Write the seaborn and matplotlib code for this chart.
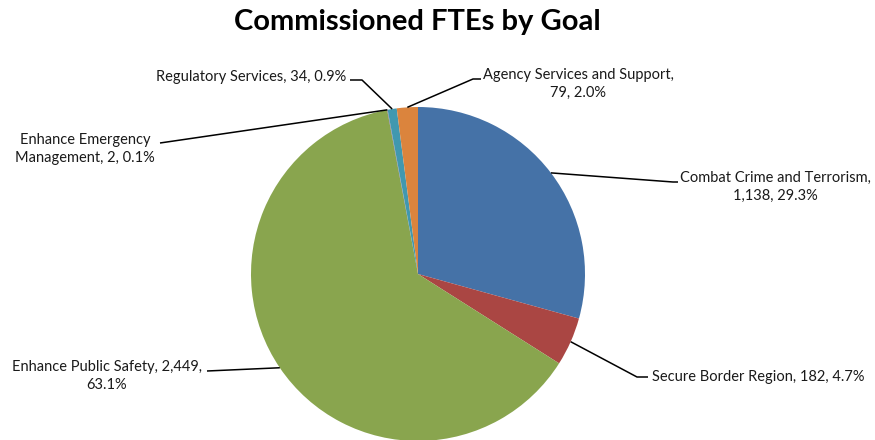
import matplotlib
matplotlib.use("Agg")
import matplotlib.pyplot as plt
import numpy as np
import seaborn as sns

# Commissioned FTEs by goal, clockwise from 12 o'clock
goals = [
    "Combat Crime and Terrorism",
    "Secure Border Region",
    "Enhance Public Safety",
    "Enhance Emergency Management",
    "Regulatory Services",
    "Agency Services and Support",
]
ftes = [1138, 182, 2449, 2, 34, 79]
colors = ["#4572A7", "#AA4643", "#89A54E", "#80699B", "#4198AF", "#DB843D"]

# label text as drawn (line breaks included)
label_texts = [
    "Combat Crime and Terrorism,\n{v}, {p}",
    "Secure Border Region, {v}, {p}",
    "Enhance Public Safety, {v},\n{p}",
    "Enhance Emergency\nManagement, {v}, {p}",
    "Regulatory Services, {v}, {p}",
    "Agency Services and Support,\n{v}, {p}",
]

W, H = 875, 440
CX, CY, R = 418, 274, 167   # pie centre / radius in pixels

# leader-line elbow, leader end, text anchor (pixels, top-left origin), alignment
layout = [
    ((673, 182), (678, 182), (680, 187), "left"),
    ((637, 377), (648, 377), (652, 377), "left"),
    ((207, 371), (207, 371), (202, 376), "right"),
    ((160, 143), (160, 143), (155, 149), "right"),
    ((362, 80), (350, 80), (346, 77), "right"),
    ((473, 79), (481, 79), (483, 84), "left"),
]

sns.set_theme(style="white")
plt.rcParams["font.family"] = ["Lato", "DejaVu Sans"]


def to_data(px, py):
    return (px - CX) / R, (CY - py) / R


fig = plt.figure(figsize=(W / 100, H / 100), dpi=100)
ax = fig.add_axes([(CX - R) / W, (H - (CY + R)) / H, 2 * R / W, 2 * R / H])

wedges, _ = ax.pie(
    ftes,
    colors=colors,
    startangle=90,
    counterclock=False,
    radius=1,
    wedgeprops=dict(linewidth=0),
)
ax.set_xlim(-1, 1)
ax.set_ylim(-1, 1)
ax.axis("off")

total = sum(ftes)
for w, v, tmpl, (elbow, end, anchor, ha) in zip(wedges, ftes, label_texts, layout):
    mid = np.deg2rad((w.theta1 + w.theta2) / 2)
    x0, y0 = np.cos(mid), np.sin(mid)
    ex, ey = to_data(*elbow)
    nx, ny = to_data(*end)
    ax.plot([x0, ex, nx], [y0, ey, ny], color="black", lw=1.1,
            clip_on=False, solid_capstyle="butt")
    tx, ty = to_data(*anchor)
    txt = tmpl.format(v=f"{v:,}", p=f"{100 * v / total:.1f}%")
    ax.text(tx, ty, txt, ha=ha, va="center", multialignment="center",
            fontsize=10.5, color="#1a1a1a", clip_on=False, linespacing=1.3)

fig.text(417 / W, 1 - 22 / H, "Commissioned FTEs by Goal", ha="center",
         va="center", fontsize=21, fontweight="bold", color="black")

fig.savefig("out.png", dpi=100)
